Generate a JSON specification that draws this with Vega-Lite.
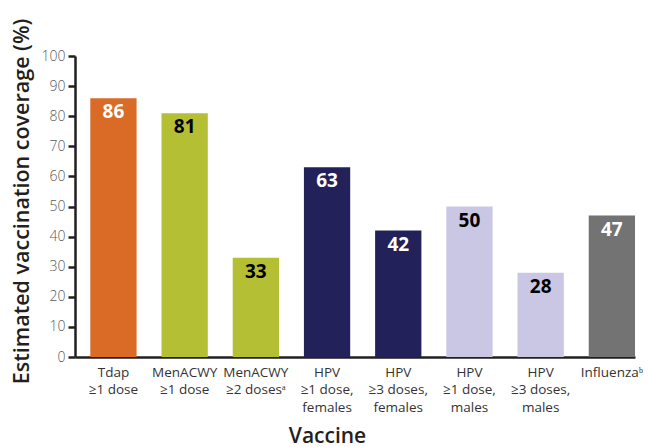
{
  "$schema": "https://vega.github.io/schema/vega-lite/v6.json",
  "autosize": "none",
  "width": 560,
  "height": 301,
  "padding": {"left": 75, "top": 56, "right": 13, "bottom": 90},
  "background": "white",
  "config": {
    "font": "Open Sans",
    "view": {"stroke": null}
  },
  "data": {
    "values": [
      {"vaccine": "Tdap|≥1 dose", "coverage": 86, "group": "Tdap"},
      {"vaccine": "MenACWY|≥1 dose", "coverage": 81, "group": "MenACWY"},
      {"vaccine": "MenACWY|≥2 dosesᵃ", "coverage": 33, "group": "MenACWY"},
      {"vaccine": "HPV|≥1 dose,|females", "coverage": 63, "group": "HPV females"},
      {"vaccine": "HPV|≥3 doses,|females", "coverage": 42, "group": "HPV females"},
      {"vaccine": "HPV|≥1 dose,|males", "coverage": 50, "group": "HPV males"},
      {"vaccine": "HPV|≥3 doses,|males", "coverage": 28, "group": "HPV males"},
      {"vaccine": "Influenzaᵇ", "coverage": 47, "group": "Influenza"}
    ]
  },
  "encoding": {
    "x": {
      "field": "vaccine",
      "type": "nominal",
      "sort": null,
      "scale": {"paddingInner": 0.35, "paddingOuter": 0.1075, "align": 1},
      "axis": {
        "title": "Vaccine",
        "titleFontSize": 21,
        "titleFontWeight": 600,
        "titleColor": "#231f20",
        "titleX": 252,
        "titleY": 79,
        "titleAlign": "center",
        "titleBaseline": "middle",
        "labelAngle": 0,
        "labelExpr": "split(datum.value, '|')",
        "labelFontSize": 13.5,
        "labelColor": "#333333",
        "labelLineHeight": 17.5,
        "labelBaseline": "top",
        "labelPadding": 8,
        "ticks": false,
        "domainColor": "#231f20",
        "domainWidth": 2.5
      }
    },
    "y": {
      "field": "coverage",
      "type": "quantitative",
      "scale": {"domain": [0, 100]},
      "axis": {
        "title": "Estimated vaccination coverage (%)",
        "titleFontSize": 21.5,
        "titleFontWeight": 600,
        "titleColor": "#231f20",
        "titleX": -42,
        "titleY": 145,
        "titleAlign": "center",
        "titleAngle": -90,
        "titleBaseline": "bottom",
        "values": [0, 10, 20, 30, 40, 50, 60, 70, 80, 90, 100],
        "grid": false,
        "tickSize": 7,
        "tickWidth": 2.5,
        "tickColor": "#231f20",
        "domainColor": "#231f20",
        "domainWidth": 2.5,
        "labelFontSize": 14,
        "labelFontWeight": 300,
        "labelColor": "#58595b",
        "labelPadding": 3
      }
    }
  },
  "layer": [
    {
      "mark": {"type": "bar"},
      "encoding": {
        "color": {
          "field": "group",
          "type": "nominal",
          "scale": {
            "domain": ["Tdap", "MenACWY", "HPV females", "HPV males", "Influenza"],
            "range": ["#d96b27", "#b5bf33", "#22215a", "#c9c7e4", "#737373"]
          },
          "legend": null
        }
      }
    },
    {
      "mark": {"type": "text", "baseline": "top", "dy": 5, "fontSize": 19, "fontWeight": "bold"},
      "encoding": {
        "text": {"field": "coverage", "type": "quantitative"},
        "color": {
          "field": "group",
          "type": "nominal",
          "scale": {
            "domain": ["Tdap", "MenACWY", "HPV females", "HPV males", "Influenza"],
            "range": ["#ffffff", "#000000", "#ffffff", "#000000", "#ffffff"]
          },
          "legend": null
        }
      }
    }
  ],
  "resolve": {"scale": {"color": "independent"}}
}
